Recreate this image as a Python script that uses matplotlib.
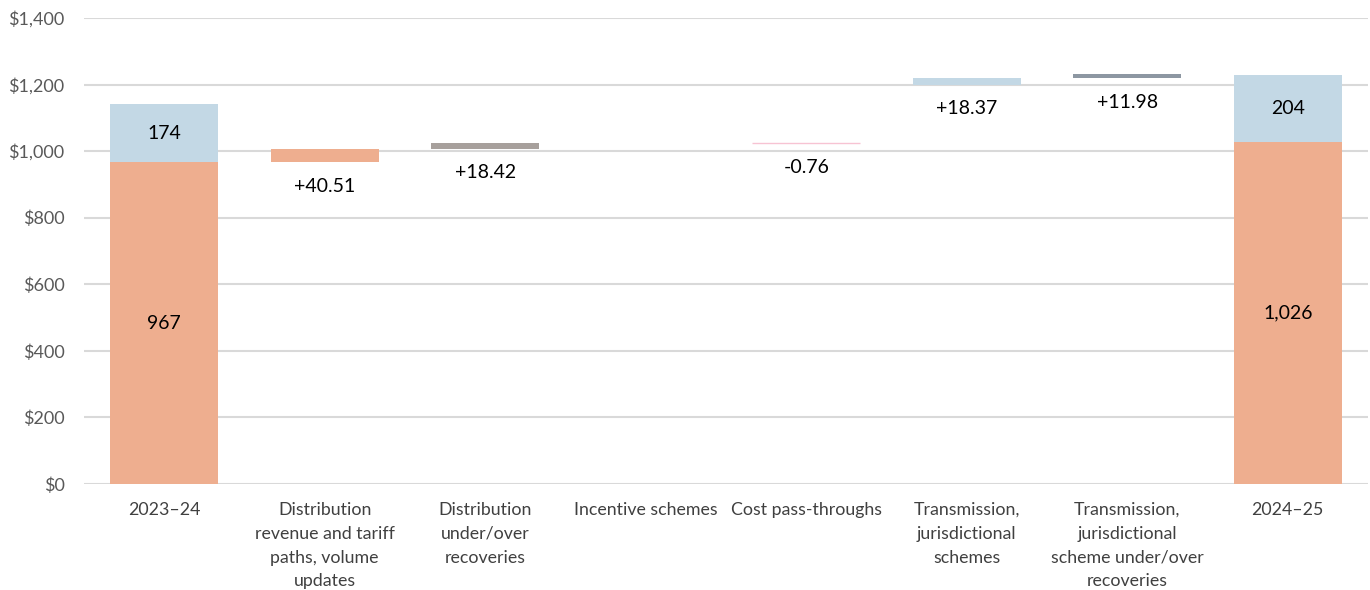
import matplotlib
matplotlib.use("Agg")
import matplotlib.pyplot as plt
from matplotlib.ticker import FuncFormatter

categories = ["2023–24", "Distribution\nrevenue and tariff\npaths, volume\nupdates",
              "Distribution\nunder/over\nrecoveries", "Incentive schemes", "Cost pass-throughs",
              "Transmission,\njurisdictional\nschemes", "Transmission,\njurisdictional\nscheme under/over\nrecoveries",
              "2024–25"]
start_dist = 967
start_trans = 174
end_dist = 1026
end_trans = 204
dist_changes = [40.51, 18.42, 0.0, -0.76]
dist_labels = ["+40.51", "+18.42", "", "-0.76"]
trans_changes = [18.37, 11.98]
trans_labels = ["+18.37", "+11.98"]
yticks = [0, 200, 400, 600, 800, 1000, 1200, 1400]

c_orange = "#EEAE8F"
c_blue = "#C3D8E5"
c_grey = "#A7A09C"
c_pink = "#F7C3D3"
c_dgrey = "#8D97A2"
change_colors = [c_orange, c_grey, c_grey, c_pink, c_blue, c_dgrey]

plt.rcParams['font.family'] = ['Lato', 'DejaVu Sans']
fig = plt.figure(figsize=(13.7, 5.9), dpi=100)
ax = fig.add_axes([84/1370, 1-484/590, 1284/1370, 466/590])

w = 0.67
x = list(range(len(categories)))
lab_fs = 14

# start bar
ax.bar(x[0], start_dist, width=w, color=c_orange, zorder=3)
ax.bar(x[0], start_trans, bottom=start_dist, width=w, color=c_blue, zorder=3)
ax.text(x[0], start_dist/2, f"{start_dist:,}", ha="center", va="center", fontsize=lab_fs, zorder=4)
ax.text(x[0], start_dist + start_trans/2, f"{start_trans:,}", ha="center", va="center", fontsize=lab_fs, zorder=4)

# end bar
ax.bar(x[-1], end_dist, width=w, color=c_orange, zorder=3)
ax.bar(x[-1], end_trans, bottom=end_dist, width=w, color=c_blue, zorder=3)
ax.text(x[-1], end_dist/2, f"{end_dist:,}", ha="center", va="center", fontsize=lab_fs, zorder=4)
ax.text(x[-1], end_dist + end_trans/2, f"{end_trans:,}", ha="center", va="center", fontsize=lab_fs, zorder=4)

def change_bar(xi, base, delta, color, label):
    if delta == 0:
        return
    lo = min(base, base + delta)
    ax.bar(xi, abs(delta), bottom=lo, width=w, color=color, edgecolor=color,
           linewidth=1 if abs(delta) < 2 else 0, zorder=3)
    ax.annotate(label, xy=(xi, lo), xytext=(0, -17.5), textcoords="offset points",
                ha="center", va="center", fontsize=lab_fs, zorder=4)

run = start_dist
for i, d in enumerate(dist_changes):
    change_bar(x[1+i], run, d, change_colors[i], dist_labels[i])
    run += d

run = end_dist + start_trans
for i, d in enumerate(trans_changes):
    change_bar(x[5+i], run, d, change_colors[4+i], trans_labels[i])
    run += d

ax.set_ylim(0, 1400)
ax.set_xlim(-0.5, len(categories)-0.5)
ax.set_yticks(yticks)
ax.yaxis.set_major_formatter(FuncFormatter(lambda v, p: f"${v:,.0f}"))
ax.set_xticks(x)
ax.set_xticklabels(categories, fontsize=12.8, color="#404040", linespacing=1.6)
ax.tick_params(axis="y", labelsize=13, labelcolor="#595959", length=0, pad=14)
ax.tick_params(axis="x", length=0, pad=13)
ax.grid(axis="y", color="#D9D9D9", linewidth=1.5, zorder=0)
for s in ax.spines.values():
    s.set_visible(False)

fig.savefig("out.png", dpi=100)
